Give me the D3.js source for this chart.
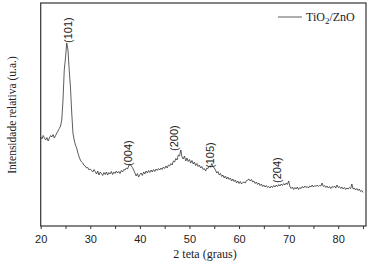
<!DOCTYPE html>
<html><head><meta charset="utf-8">
<script src="https://cdn.jsdelivr.net/npm/d3@7"></script>
<style>body{margin:0;background:#fff}svg{display:block}</style>
</head><body>
<svg id="c" width="374" height="265"></svg>
<script>
// 2θ grid: 20° to 85° in 0.25° steps
const startAngle = 20, stepAngle = 0.25;
// intensity (a.u.), 4 values per degree
const intensity = [
 890,870,905,880, 860,885,850,880, 905,890,915,880, 905,930,950,975,
 1000,1060,1260,1560, 1680,1830,1760,1560, 1390,1140,930,860, 810,780,730,690,
 660,640,630,605, 600,580,585,560, 570,555,540,565, 545,520,550,510,
 540,525,505,535, 515,540,510,535, 520,545,515,540, 525,550,530,545,
 525,555,540,565, 560,580,570,600, 620,600,585,560, 530,500,525,490,
 515,530,505,540, 520,550,530,555, 535,560,540,565, 545,570,555,575,
 560,580,565,590, 575,600,580,610, 600,625,610,650, 640,675,660,710,
 700,760,690,670, 700,650,680,645, 665,630,655,620, 640,605,625,595,
 610,580,595,565, 575,550,580,575, 600,590,625,595, 580,560,530,545,
 510,525,495,510, 480,500,470,490, 465,480,450,470, 445,460,430,450,
 425,445,420,435, 440,430,455,460, 470,450,465,440, 450,425,440,415,
 430,405,420,395, 410,390,405,385, 395,380,400,385, 405,390,410,395,
 415,400,420,405, 425,410,430,415, 450,395,375,390, 365,385,370,390,
 365,385,375,395, 380,400,385,395, 380,400,390,410, 390,405,395,410,
 395,405,400,430, 395,405,385,400, 380,395,375,395, 385,400,380,410,
 385,395,375,390, 370,385,365,380, 370,385,375,420, 370,380,360,375,
 355,370,345,355, 335
];
const xTicks = [20,25,30,35,40,45,50,55,60,65,70,75,80,85];
const xTickLabels = ["20","","30","","40","","50","","60","","70","","80",""];
const peakLabels = ["(101)","(004)","(200)","(105)","(204)"];
const peakAngles = [25.6, 37.6, 46.9, 54.1, 67.6];
const peakLevels = [1830, 600, 750, 580, 430];
const seriesName = ["TiO","2","/ZnO"];

const data = intensity.map((v,i)=>({a:startAngle+i*stepAngle, v}));
const svg = d3.select("#c");
const L=40.7, R=366, T=3, B=226;
const x = d3.scaleLinear().domain([20,85.6]).range([L,R]);
const y = d3.scaleLinear().domain([0,2230]).range([B,T]);

// curve
svg.append("path").datum(data)
  .attr("fill","none").attr("stroke","#333").attr("stroke-width",0.8)
  .attr("stroke-linejoin","round")
  .attr("d", d3.line().x(d=>x(d.a)).y(d=>y(d.v)));

// frame
svg.append("rect").attr("x",L).attr("y",T).attr("width",R-L).attr("height",B-T)
  .attr("fill","none").attr("stroke","#333").attr("stroke-width",1.2);

// bottom axis
const ax = svg.append("g").attr("transform",`translate(0,${B})`)
  .call(d3.axisBottom(x).tickValues(xTicks).tickSize(3).tickPadding(6)
    .tickFormat((d,i)=>xTickLabels[i]));
ax.select(".domain").remove();
ax.selectAll("line").attr("stroke","#333");
ax.selectAll("text").attr("font-family","Liberation Sans, Arial, sans-serif")
  .attr("font-size",11).attr("fill","#222");

// axis titles
svg.append("text").attr("x",205).attr("y",258).attr("text-anchor","middle")
  .attr("font-family","Liberation Serif, Times New Roman, serif").attr("font-size",12)
  .attr("fill","#222").text("2 teta (graus)");
svg.append("text").attr("transform","translate(16,115) rotate(-90)")
  .attr("text-anchor","middle")
  .attr("font-family","Liberation Serif, Times New Roman, serif").attr("font-size",11.5)
  .attr("fill","#222").text("Intensidade relativa (u.a.)");

// peak labels
peakLabels.forEach((t,i)=>{
  svg.append("text")
    .attr("transform",`translate(${x(peakAngles[i])},${y(peakLevels[i])}) rotate(-90)`)
    .attr("dy","0.35em")
    .attr("font-family","Liberation Sans, Arial, sans-serif").attr("font-size",11)
    .attr("fill","#222").text(t);
});

// legend
svg.append("line").attr("x1",278).attr("x2",302).attr("y1",17).attr("y2",17)
  .attr("stroke","#333").attr("stroke-width",0.8);
const lt = svg.append("text").attr("x",306).attr("y",21)
  .attr("font-family","Liberation Serif, Times New Roman, serif").attr("font-size",12)
  .attr("fill","#222");
lt.append("tspan").text(seriesName[0]);
lt.append("tspan").attr("font-size",9).attr("dy",3).text(seriesName[1]);
lt.append("tspan").attr("dy",-3).text(seriesName[2]);
</script>
</body></html>
